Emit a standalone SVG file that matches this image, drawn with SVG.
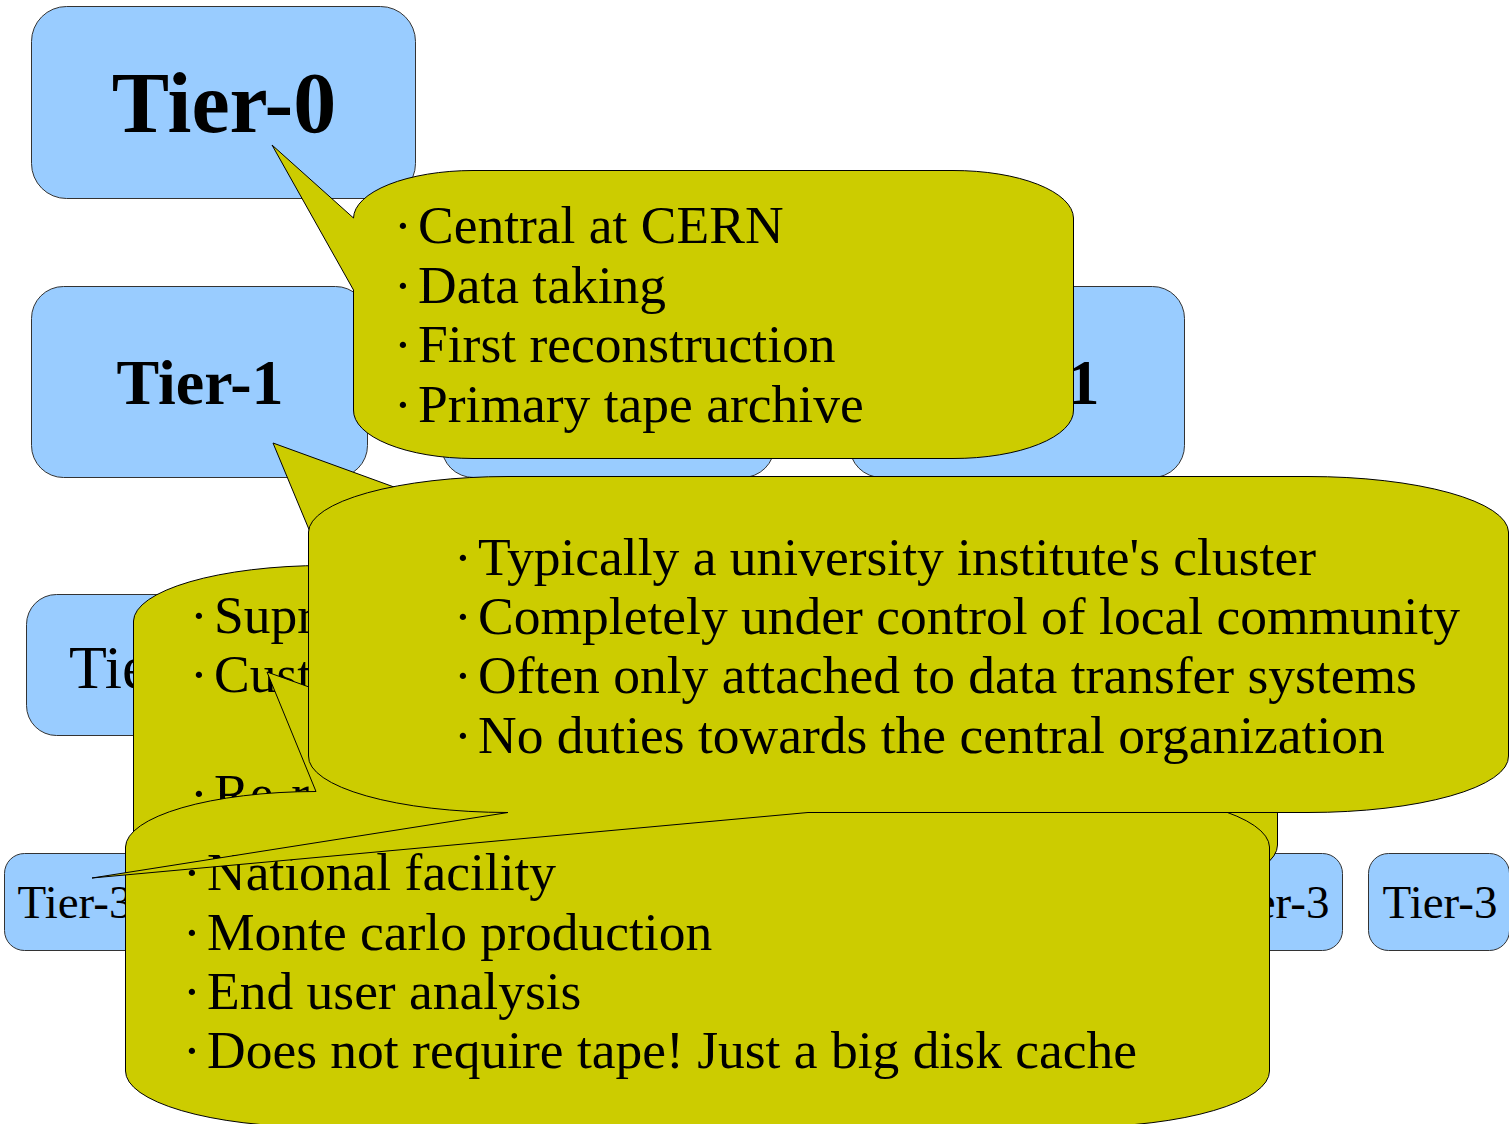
<svg xmlns="http://www.w3.org/2000/svg" width="1509" height="1124" viewBox="0 0 1509 1124">
<style>
.box{fill:#99ccff;stroke:#333;stroke-width:1}
.co{fill:#cccc00;stroke:#000;stroke-width:1;stroke-linejoin:miter}
.lb{font-family:"Liberation Serif","Times New Roman",serif;fill:#000}
.b{font-weight:bold}
.t{font-family:"Liberation Serif","Times New Roman",serif;font-size:53.5px;fill:#000}
</style>
<rect width="1509" height="1124" fill="#fff"/>
<g id="tier0"><rect class="box" x="31.5" y="6.5" width="384" height="192" rx="35"/><text class="lb b" x="224" y="132" font-size="86" text-anchor="middle">Tier-0</text></g>
<g id="tier1-a"><rect class="box" x="31.5" y="286.5" width="336" height="191" rx="32"/><text class="lb b" x="200" y="404" font-size="64" text-anchor="middle">Tier-1</text></g>
<g id="tier1-b"><rect class="box" x="441.5" y="286.5" width="333" height="191" rx="32"/></g>
<g id="tier1-c"><rect class="box" x="849.5" y="286.5" width="335" height="191" rx="32"/><text class="lb b" x="1016" y="404" font-size="64" text-anchor="middle">Tier-1</text></g>
<g id="tier2"><rect class="box" x="26.5" y="594.5" width="340" height="141" rx="30"/><text class="lb" x="69" y="688" font-size="62">Tie</text></g>
<g id="tier3-a"><rect class="box" x="4.5" y="853.5" width="141" height="97" rx="20"/><text class="lb" x="75" y="918" font-size="47" text-anchor="middle">Tier-3</text></g>
<g id="tier3-b"><rect class="box" x="1201.5" y="853.5" width="141" height="97" rx="20"/><text class="lb" x="1272" y="918" font-size="47" text-anchor="middle">Tier-3</text></g>
<g id="tier3-c"><rect class="box" x="1368.5" y="853.5" width="141" height="97" rx="20"/><text class="lb" x="1440" y="918" font-size="47" text-anchor="middle">Tier-3</text></g>
<g id="connectors"></g>
<g id="callout-tier0">
<path class="co" d="M473,170.5 H953 A120 48 0 0 1 1073.5,218 V410 A120 48 0 0 1 953,458.5 H473 A120 48 0 0 1 353.5,410 V290 L272,145 L353.5,218 A120 48 0 0 1 473,170.5 Z"/>
<text class="t" x="394" y="243">·<tspan x="418">Central at CERN</tspan></text>
<text class="t" x="394" y="303">·<tspan x="418">Data taking</tspan></text>
<text class="t" x="394" y="362">·<tspan x="418">First reconstruction</tspan></text>
<text class="t" x="394" y="422">·<tspan x="418">Primary tape archive</tspan></text>
</g>
<g id="callout-tier1">
<path class="co" d="M133.5,621 A191 56 0 0 1 324,565.5 L273,443 L610,565.5 H1086 A191 56 0 0 1 1277.5,621 V845 A191 56 0 0 1 1086,901 H324 A191 56 0 0 1 133.5,845 Z"/>
<text class="t" x="190" y="633">·<tspan x="214">Supr</tspan></text>
<text class="t" x="190" y="692">·<tspan x="214">Cust</tspan></text>
<text class="t" x="190" y="811">·<tspan x="214">Re-r</tspan></text>
</g>
<g id="callout-tier2">
<path class="co" d="M125.5,847 A191 56 0 0 1 316,791.5 L267,672 L602,791.5 H1079 A191 56 0 0 1 1269.5,847 V1071 A191 56 0 0 1 1079,1127 H316 A191 56 0 0 1 125.5,1071 Z"/>
<text class="t" x="183" y="890">·<tspan x="207">National facility</tspan></text>
<text class="t" x="183" y="950">·<tspan x="207">Monte carlo production</tspan></text>
<text class="t" x="183" y="1009">·<tspan x="207">End user analysis</tspan></text>
<text class="t" x="183" y="1068">·<tspan x="207">Does not require tape! Just a big disk cache</tspan></text>
</g>
<g id="callout-tier3">
<path class="co" d="M508,476.5 H1308 A200 56 0 0 1 1508.5,532 V756 A200 56 0 0 1 1308,812.5 H808 L92,878 L508,812.5 A200 56 0 0 1 308.5,756 V532 A200 56 0 0 1 508,476.5 Z"/>
<text class="t" x="454" y="575">·<tspan x="478">Typically a university institute's cluster</tspan></text>
<text class="t" x="454" y="634">·<tspan x="478">Completely under control of local community</tspan></text>
<text class="t" x="454" y="693">·<tspan x="478">Often only attached to data transfer systems</tspan></text>
<text class="t" x="454" y="753">·<tspan x="478">No duties towards the central organization</tspan></text>
</g>
</svg>
